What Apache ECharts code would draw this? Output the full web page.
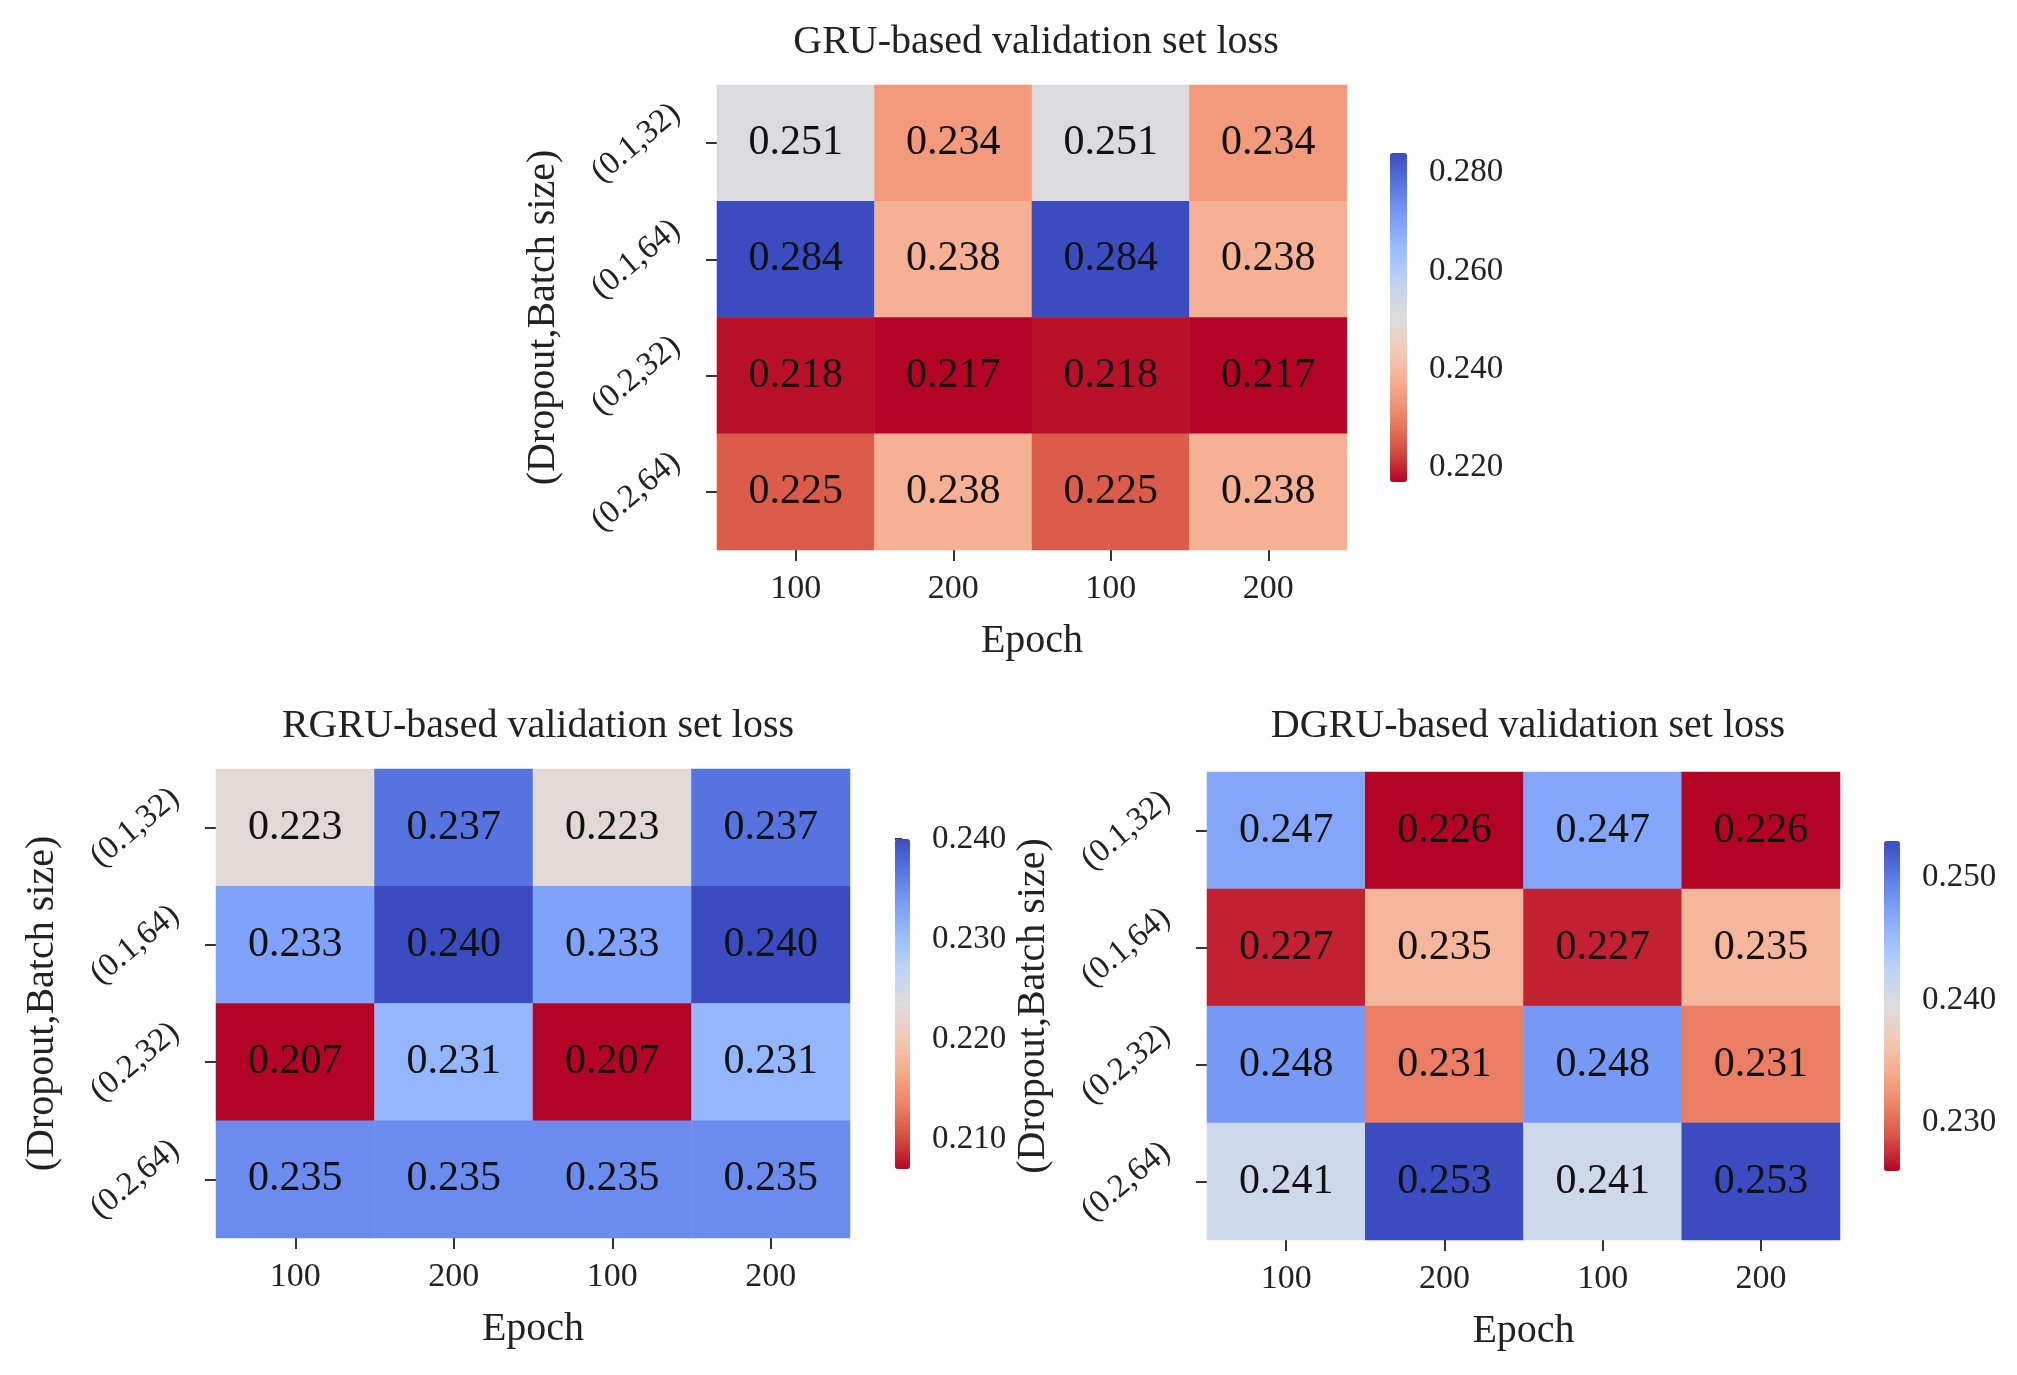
<!DOCTYPE html>
<html>
<head>
<meta charset="utf-8">
<script src="https://cdn.jsdelivr.net/npm/echarts@6/dist/echarts.min.js"></script>
<style>
  html, body { margin: 0; padding: 0; background: #fff; }
  #main { width: 2017px; height: 1375px; }
</style>
</head>
<body>
<div id="main"></div>
<script>
// data
const epochs = ['100', '200', '100', '200'];
const configs = ['(0.1,32)', '(0.1,64)', '(0.2,32)', '(0.2,64)'];

const gruLoss = [
  [0.251, 0.234, 0.251, 0.234],
  [0.284, 0.238, 0.284, 0.238],
  [0.218, 0.217, 0.218, 0.217],
  [0.225, 0.238, 0.225, 0.238]
];
const rgruLoss = [
  [0.223, 0.237, 0.223, 0.237],
  [0.233, 0.240, 0.233, 0.240],
  [0.207, 0.231, 0.207, 0.231],
  [0.235, 0.235, 0.235, 0.235]
];
const dgruLoss = [
  [0.247, 0.226, 0.247, 0.226],
  [0.227, 0.235, 0.227, 0.235],
  [0.248, 0.231, 0.248, 0.231],
  [0.241, 0.253, 0.241, 0.253]
];

const gruTicks = [0.22, 0.24, 0.26, 0.28];
const rgruTicks = [0.21, 0.22, 0.23, 0.24];
const dgruTicks = [0.23, 0.24, 0.25];

// coolwarm reversed: low = red, high = blue
const coolwarmR = ['#b40426', '#d65244', '#ee8468', '#f7ac8e', '#f2cbb7', '#dddcdc',
                   '#c0d4f5', '#9ebeff', '#7b9ff9', '#5977e3', '#3b4cc0'];

const FONT = 'Liberation Serif';
const INK = '#222';

// layout of the three panels
const panels = [
  { title: 'GRU-based validation set loss', loss: gruLoss, ticks: gruTicks,
    titleX: 1031, titleY: 17,
    grid: { left: 717, top: 85, width: 630, height: 465 },
    bar: { left: 1390, top: 153, width: 17, height: 329 } },
  { title: 'RGRU-based validation set loss', loss: rgruLoss, ticks: rgruTicks,
    titleX: 533, titleY: 701,
    grid: { left: 216, top: 769, width: 634, height: 469 },
    bar: { left: 895, top: 839, width: 15, height: 330 } },
  { title: 'DGRU-based validation set loss', loss: dgruLoss, ticks: dgruTicks,
    titleX: 1523, titleY: 701,
    grid: { left: 1207, top: 772, width: 633, height: 468 },
    bar: { left: 1884, top: 841, width: 16, height: 330 } }
];

function toCells(matrix) {
  let cells = [];
  matrix.forEach((row, y) => {
    row.forEach((v, x) => cells.push([x, y, v]));
  });
  return cells;
}

let titles = [], grids = [], xAxes = [], yAxes = [], series = [], visualMaps = [];

panels.forEach((p, i) => {
  let flat = p.loss.flat();
  let lo = Math.min(...flat);
  let hi = Math.max(...flat);

  titles.push({
    text: p.title,
    left: p.titleX,
    top: p.titleY,
    textAlign: 'center',
    textStyle: { fontFamily: FONT, fontWeight: 'normal', fontSize: 40, color: INK }
  });

  // heatmap grid
  grids.push(p.grid);
  xAxes.push({
    type: 'category',
    gridIndex: 2 * i,
    data: epochs,
    name: 'Epoch',
    nameLocation: 'middle',
    nameGap: 71,
    nameTextStyle: { fontFamily: FONT, fontSize: 40, color: INK },
    axisLine: { show: false },
    axisTick: { show: true, alignWithLabel: true, length: 11, lineStyle: { color: '#333', width: 2 } },
    axisLabel: { fontFamily: FONT, fontSize: 34, color: INK, margin: 22 },
    splitArea: { show: false }
  });
  yAxes.push({
    type: 'category',
    gridIndex: 2 * i,
    data: configs,
    inverse: true,
    name: '(Dropout,Batch size)',
    nameLocation: 'middle',
    nameRotate: 90,
    nameGap: 154,
    nameTextStyle: { fontFamily: FONT, fontSize: 40, color: INK },
    axisLine: { show: false },
    axisTick: { show: true, alignWithLabel: true, length: 11, lineStyle: { color: '#333', width: 2 } },
    axisLabel: { fontFamily: FONT, fontSize: 33, color: INK, rotate: 40,
                 align: 'center', verticalAlign: 'middle', margin: 81 },
    splitArea: { show: false }
  });
  series.push({
    type: 'heatmap',
    xAxisIndex: 2 * i,
    yAxisIndex: 2 * i,
    data: toCells(p.loss),
    label: {
      show: true,
      formatter: d => d.value[2].toFixed(3),
      fontFamily: FONT,
      fontSize: 42,
      color: '#111'
    },
    emphasis: { disabled: true }
  });

  // colorbar
  visualMaps.push({
    type: 'continuous',
    seriesIndex: i,
    min: lo,
    max: hi,
    calculable: false,
    hoverLink: false,
    left: p.bar.left,
    top: p.bar.top,
    itemWidth: p.bar.width,
    itemHeight: p.bar.height,
    padding: 0,
    inRange: { color: coolwarmR }
  });

  // value axis alongside the colorbar
  grids.push(p.bar);
  xAxes.push({ type: 'value', gridIndex: 2 * i + 1, show: false });
  yAxes.push({
    type: 'value',
    gridIndex: 2 * i + 1,
    position: 'right',
    min: lo,
    max: hi,
    axisLine: { show: false },
    splitLine: { show: false },
    axisTick: { show: true, length: 7, customValues: p.ticks, lineStyle: { color: '#333', width: 2 } },
    axisLabel: {
      customValues: p.ticks,
      formatter: v => v.toFixed(3),
      fontFamily: FONT,
      fontSize: 33,
      color: INK,
      margin: 22
    }
  });
});

let chart = echarts.init(document.getElementById('main'));
chart.setOption({
  backgroundColor: '#fff',
  animation: false,
  title: titles,
  grid: grids,
  xAxis: xAxes,
  yAxis: yAxes,
  visualMap: visualMaps,
  series: series
});
</script>
</body>
</html>
